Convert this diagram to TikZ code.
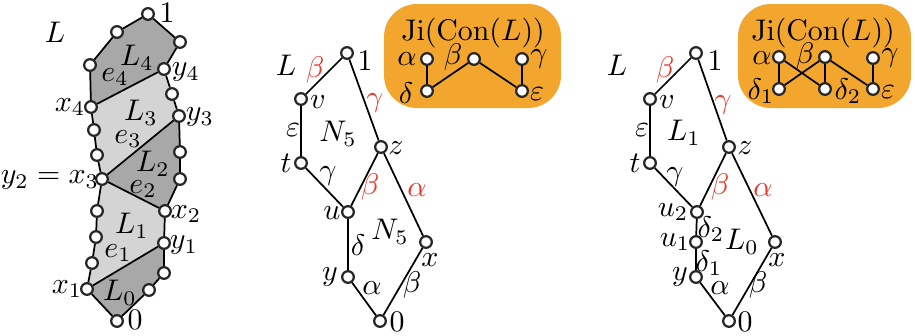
\documentclass[tikz,border=0pt]{standalone}
\definecolor{blob}{RGB}{242,166,46}
\definecolor{darkg}{RGB}{168,168,168}
\definecolor{lightg}{RGB}{212,212,212}
\definecolor{redl}{RGB}{232,58,46}
\begin{document}
\begin{tikzpicture}[x=0.335pt,y=-0.335pt,
  vtx/.style={circle,draw=black!85,fill=white,line width=0.75pt,minimum size=3.9pt,inner sep=0pt},
  lbl/.style={inner sep=0pt},
  rlbl/.style={inner sep=0pt,text=redl},
  edge/.style={line width=0.58pt,black},
  blobshape/.style={fill=blob,rounded corners=11pt}]
\useasboundingbox (0,0) rectangle (915,335);

% ---------- left diagram ----------
\coordinate (c0) at (117,321);
\coordinate (cx1) at (87,289);
\coordinate (ca1) at (92,263);
\coordinate (ca2) at (96,237);
\coordinate (ca3) at (97,211);
\coordinate (cx3) at (102,179);
\coordinate (ca4) at (97,155);
\coordinate (ca5) at (94,130);
\coordinate (cx4) at (91,107);
\coordinate (ca6) at (90,65);
\coordinate (ca7) at (117,32);
\coordinate (c1) at (148,14);
\coordinate (ca9) at (180,42);
\coordinate (cy4) at (164,69);
\coordinate (cb1) at (172,94);
\coordinate (cy3) at (179,116);
\coordinate (cb2) at (180,152);
\coordinate (cb3) at (180,179);
\coordinate (cx2) at (165,211);
\coordinate (cy1) at (164,243);
\coordinate (cb4) at (164,273);
\coordinate (cb5) at (149,290);

\fill[darkg] (cx1) -- (cy1) -- (cb4) -- (cb5) -- (c0) -- cycle;
\fill[lightg] (cx1) -- (ca1) -- (ca2) -- (ca3) -- (cx3) -- (cx2) -- (cy1) -- cycle;
\fill[darkg] (cx3) -- (cy3) -- (cb2) -- (cb3) -- (cx2) -- cycle;
\fill[lightg] (cx3) -- (ca4) -- (ca5) -- (cx4) -- (cy4) -- (cb1) -- (cy3) -- cycle;
\fill[darkg] (cx4) -- (ca6) -- (ca7) -- (c1) -- (ca9) -- (cy4) -- cycle;

\foreach \n in {0,x1,a1,a2,a3,x3,a4,a5,x4,a6,a7,1,a9,y4,b1,y3,b2,b3,x2,y1,b4,b5}
  \node[vtx] (L\n) at (c\n) {};

\draw[edge] (L0) -- (Lx1) -- (La1) -- (La2) -- (La3) -- (Lx3) -- (La4) -- (La5) -- (Lx4) -- (La6) -- (La7) -- (L1) -- (La9) -- (Ly4) -- (Lb1) -- (Ly3) -- (Lb2) -- (Lb3) -- (Lx2) -- (Ly1) -- (Lb4) -- (Lb5) -- (L0);
\draw[edge] (Lx1) -- (Ly1);
\draw[edge] (Lx3) -- (Lx2);
\draw[edge] (Lx3) -- (Ly3);
\draw[edge] (Lx4) -- (Ly4);

\node[lbl] (tL) at (55,32) {$L$};
\node[lbl] (t1) at (167,13) {$1$};
\node[lbl] (t0) at (135,320) {$0$};
\node[lbl] (ty4) at (186,72) {$y_4$};
\node[lbl] (ty3) at (200,117) {$y_3$};
\node[lbl] (tx4) at (70,107) {$x_4$};
\node[lbl] (ty2) at (50,180) {$y_2=x_3$};
\node[lbl] (tx2) at (186,214) {$x_2$};
\node[lbl] (ty1) at (184,245) {$y_1$};
\node[lbl] (tx1) at (67,289) {$x_1$};
\node[lbl] (tL4) at (137,58) {$L_4$};
\node[lbl] (te4) at (115,77) {$e_4$};
\node[lbl] (tL3) at (141,113) {$L_3$};
\node[lbl] (te3) at (128,139) {$e_3$};
\node[lbl] (tL2) at (153,164) {$L_2$};
\node[lbl] (te2) at (143,189) {$e_2$};
\node[lbl] (tL1) at (132,226) {$L_1$};
\node[lbl] (te1) at (118,253) {$e_1$};
\node[lbl] (tL0) at (120,293) {$L_0$};

% ---------- middle diagram ----------
\fill[blobshape] (384,4) rectangle (561,108);
\node[lbl] (mtitle) at (473,33) {$\mathrm{Ji}(\mathrm{Con}(L))$};
\node[vtx] (ja) at (427,59) {};
\node[vtx] (jb) at (474,59) {};
\node[vtx] (jc) at (522,59) {};
\node[vtx] (jd) at (427,91) {};
\node[vtx] (je) at (522,91) {};
\draw[edge] (ja) -- (jd) -- (jb) -- (je) -- (jc);
\node[lbl] (tja) at (407,59) {$\alpha$};
\node[lbl] (tjb) at (453,57) {$\beta$};
\node[lbl] (tjc) at (539,59) {$\gamma$};
\node[lbl] (tjd) at (406,93) {$\delta$};
\node[lbl] (tje) at (537,94) {$\varepsilon$};

\node[vtx] (m1) at (347,53) {};
\node[vtx] (mv) at (301,99) {};
\node[vtx] (mt) at (301,163) {};
\node[vtx] (mz) at (381,147) {};
\node[vtx] (mu) at (348,212) {};
\node[vtx] (mx) at (426,242) {};
\node[vtx] (my) at (348,277) {};
\node[vtx] (m0) at (380,321) {};
\draw[edge] (m1) -- (mv) -- (mt) -- (mu) -- (mz) -- (m1);
\draw[edge] (mz) -- (mx) -- (m0) -- (my) -- (mu);

\node[lbl] (mL) at (286,65) {$L$};
\node[rlbl] (mb1) at (315,70) {$\beta$};
\node[lbl] (mt1) at (365,61) {$1$};
\node[lbl] (mtv) at (318,102) {$v$};
\node[rlbl] (mg1) at (375,103) {$\gamma$};
\node[lbl] (me) at (293,130) {$\varepsilon$};
\node[lbl] (mN1) at (338,134) {$N_5$};
\node[lbl] (mtt) at (286,163) {$t$};
\node[lbl] (mtz) at (396,148) {$z$};
\node[lbl] (mg2) at (328,176) {$\gamma$};
\node[lbl] (mtu) at (332,213) {$u$};
\node[rlbl] (mb2) at (370,187) {$\beta$};
\node[rlbl] (ma1) at (417,190) {$\alpha$};
\node[lbl] (mN2) at (390,232) {$N_5$};
\node[lbl] (md) at (358,245) {$\delta$};
\node[lbl] (mtx) at (430,260) {$x$};
\node[lbl] (mty) at (330,277) {$y$};
\node[lbl] (ma2) at (372,288) {$\alpha$};
\node[lbl] (mb3) at (412,285) {$\beta$};
\node[lbl] (mt0) at (397,322) {$0$};

% ---------- right diagram ----------
\fill[blobshape] (738,4) rectangle (911,108);
\node[lbl] (rtitle) at (823,33) {$\mathrm{Ji}(\mathrm{Con}(L))$};
\node[vtx] (ka) at (779,57) {};
\node[vtx] (kb) at (825,57) {};
\node[vtx] (kc) at (873,58) {};
\node[vtx] (kd1) at (779,89) {};
\node[vtx] (kd2) at (825,89) {};
\node[vtx] (ke) at (873,89) {};
\draw[edge] (ka) -- (kd1);
\draw[edge] (ka) -- (kd2);
\draw[edge] (kb) -- (kd1);
\draw[edge] (kb) -- (kd2);
\draw[edge] (kb) -- (ke);
\draw[edge] (kc) -- (ke);
\node[lbl] (tka) at (762,58) {$\alpha$};
\node[lbl] (tkb) at (805,56) {$\beta$};
\node[lbl] (tkc) at (890,58) {$\gamma$};
\node[lbl] (tkd1) at (761,91) {$\delta_1$};
\node[lbl] (tkd2) at (848,91) {$\delta_2$};
\node[lbl] (tke) at (888,92) {$\varepsilon$};

\node[vtx] (r1) at (696,53) {};
\node[vtx] (rv) at (650,99) {};
\node[vtx] (rt) at (650,163) {};
\node[vtx] (rz) at (729,147) {};
\node[vtx] (ru2) at (697,212) {};
\node[vtx] (ru1) at (696,242) {};
\node[vtx] (ry) at (696,277) {};
\node[vtx] (rx) at (775,242) {};
\node[vtx] (r0) at (729,321) {};
\draw[edge] (r1) -- (rv) -- (rt) -- (ru2) -- (rz) -- (r1);
\draw[edge] (rz) -- (rx) -- (r0) -- (ry) -- (ru1) -- (ru2);

\node[lbl] (rL) at (617,65) {$L$};
\node[rlbl] (rb1) at (665,70) {$\beta$};
\node[lbl] (rt1) at (715,61) {$1$};
\node[lbl] (rtv) at (667,102) {$v$};
\node[rlbl] (rg1) at (723,105) {$\gamma$};
\node[lbl] (re) at (642,130) {$\varepsilon$};
\node[lbl] (rL1) at (684,133) {$L_1$};
\node[lbl] (rtt) at (635,163) {$t$};
\node[lbl] (rtz) at (745,148) {$z$};
\node[lbl] (rg2) at (675,177) {$\gamma$};
\node[rlbl] (rb2) at (720,187) {$\beta$};
\node[rlbl] (ra1) at (763,190) {$\alpha$};
\node[lbl] (rtu2) at (673,212) {$u_2$};
\node[lbl] (rd2) at (711,229) {$\delta_2$};
\node[lbl] (rtu1) at (675,242) {$u_1$};
\node[lbl] (rL0) at (742,242) {$L_0$};
\node[lbl] (rd1) at (709,263) {$\delta_1$};
\node[lbl] (rty) at (680,277) {$y$};
\node[lbl] (ra2) at (720,288) {$\alpha$};
\node[lbl] (rb3) at (758,285) {$\beta$};
\node[lbl] (rtx) at (777,260) {$x$};
\node[lbl] (rt0) at (745,322) {$0$};
\end{tikzpicture}
\end{document}
